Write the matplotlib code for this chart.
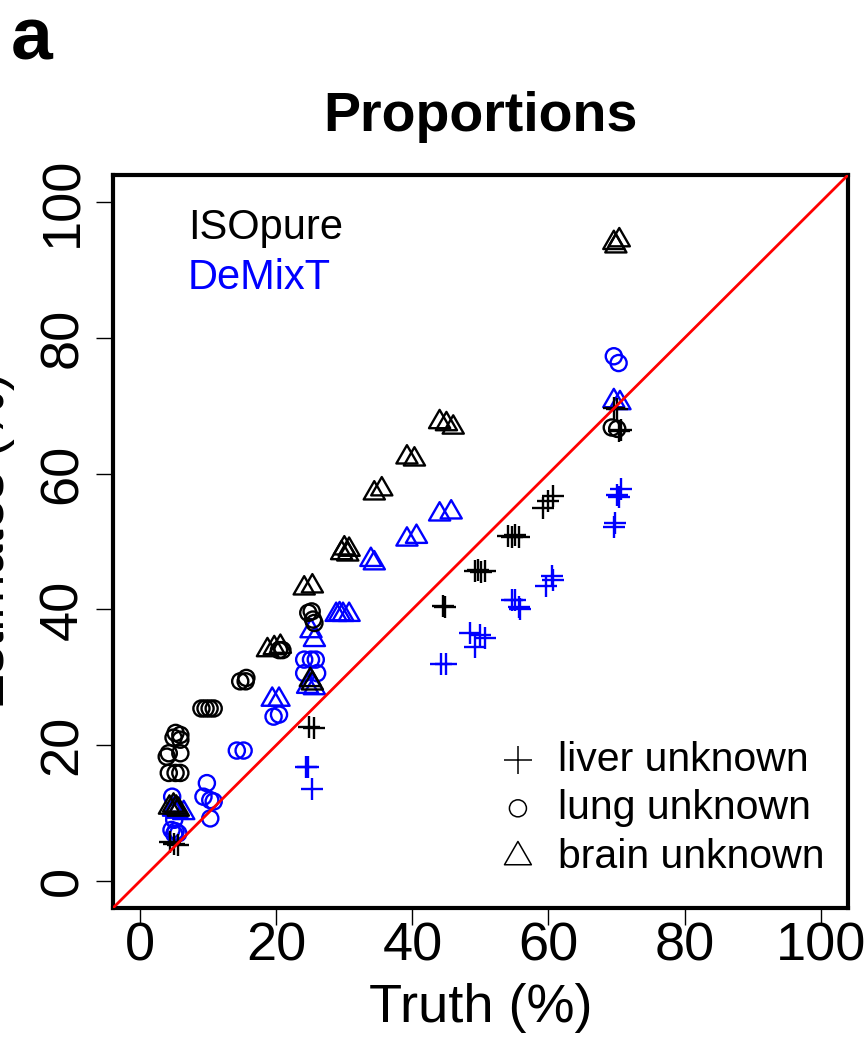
import matplotlib.pyplot as plt
from matplotlib.path import Path
import numpy as np

plt.rcParams['font.family'] = ['Liberation Sans', 'DejaVu Sans']

# ISOpure (black)
iso_liver_truth = [4.4, 5.0, 5.6, 24.8, 25.5, 44.5, 44.8, 49.2, 49.6, 50.1, 50.6, 54.1, 54.6, 55.1, 55.6,
                   59.2, 60.0, 60.7, 69.6, 70.1, 70.3, 70.6]
iso_liver_est = [5.7, 5.5, 5.3, 22.7, 22.5, 40.5, 40.3, 45.6, 45.8, 45.5, 45.7, 50.8, 50.6, 50.9, 50.7,
                 55.0, 56.0, 56.7, 69.7, 69.5, 66.3, 66.5]
iso_lung_truth = [5.2, 5.9, 4.9, 5.9, 4.2, 5.9, 3.9, 4.2, 5.2, 5.9, 9.0, 9.6, 10.2, 10.8, 14.7, 15.6, 15.5,
                  20.4, 20.9, 24.7, 25.2, 25.4, 25.6, 69.3, 70.1]
iso_lung_est = [21.8, 21.5, 21.1, 20.8, 18.8, 18.8, 18.3, 15.9, 15.9, 15.9, 25.4, 25.4, 25.4, 25.4, 29.4, 29.9, 29.4,
                34.0, 34.0, 39.5, 39.7, 38.5, 38.0, 66.8, 66.6]
iso_brain_truth = [4.3, 4.9, 5.3, 5.6, 18.7, 19.7, 20.6, 24.1, 25.3, 25.0, 25.3, 29.6, 30.0, 30.5, 30.7,
                   34.4, 35.5, 39.2, 40.3, 44.0, 45.0, 46.0, 69.6, 70.4, 69.9]
iso_brain_est = [10.8, 11.1, 10.8, 10.5, 34.0, 34.3, 34.5, 43.1, 43.4, 29.6, 29.1, 48.3, 49.0, 48.1, 48.8,
                 57.1, 57.7, 62.4, 62.1, 67.6, 67.3, 66.8, 94.0, 94.4, 93.5]

# DeMixT (blue)
dmx_liver_truth = [24.3, 24.6, 25.3, 44.2, 45.0, 48.4, 49.2, 49.9, 50.6, 54.6, 55.1, 55.6, 55.8,
                   59.7, 60.5, 60.7, 69.6, 69.8, 70.1, 70.6, 70.3]
dmx_liver_est = [16.8, 16.8, 13.6, 31.9, 31.9, 36.5, 34.5, 36.3, 35.8, 41.4, 41.4, 40.4, 40.0,
                 43.4, 44.9, 44.4, 52.2, 52.8, 56.9, 57.7, 56.5]
dmx_lung_truth = [4.7, 5.0, 4.6, 5.2, 5.6, 5.0, 9.8, 9.3, 10.3, 10.8, 10.3, 14.2, 15.2, 19.6, 20.4,
                  24.1, 25.1, 25.8, 24.1, 26.0, 69.6, 70.3]
dmx_lung_est = [12.4, 9.0, 7.5, 7.3, 7.0, 6.9, 14.4, 12.4, 11.9, 11.7, 9.2, 19.2, 19.2, 24.2, 24.5,
                32.6, 32.6, 32.6, 30.6, 30.6, 77.3, 76.3]
dmx_brain_truth = [4.9, 5.4, 6.4, 19.4, 20.4, 24.6, 25.6, 25.1, 25.6, 28.8, 29.3, 29.8, 30.7, 33.9, 34.4,
                   39.2, 40.6, 44.0, 45.7, 69.6, 70.5]
dmx_brain_est = [10.5, 10.2, 10.0, 26.7, 26.7, 28.6, 28.4, 36.8, 35.5, 39.2, 39.3, 39.2, 39.2, 47.3, 46.8,
                 50.3, 50.7, 54.0, 54.3, 70.7, 70.4]

ticks = [0, 20, 40, 60, 80, 100]
legend_labels = ['liver unknown', 'lung unknown', 'brain unknown']

# equilateral triangle like R pch=2
tri = Path([(-1, -0.5774), (1, -0.5774), (0, 1.1547), (-1, -0.5774)],
           [Path.MOVETO, Path.LINETO, Path.LINETO, Path.CLOSEPOLY])

fig = plt.figure(figsize=(8.67, 10.42), dpi=100)
ax = fig.add_axes([0.1303, 0.1286, 0.8477, 0.7034])

lw = 1.7
for col, liv, lun, bra in [
    ('blue', (dmx_liver_truth, dmx_liver_est), (dmx_lung_truth, dmx_lung_est), (dmx_brain_truth, dmx_brain_est)),
    ('black', (iso_liver_truth, iso_liver_est), (iso_lung_truth, iso_lung_est), (iso_brain_truth, iso_brain_est)),
]:
    ax.scatter(liv[0], liv[1], marker='+', s=250, color=col, linewidths=lw, zorder=3)
    ax.scatter(lun[0], lun[1], marker='o', s=135, facecolors='none', edgecolors=col, linewidths=lw, zorder=3)
    ax.scatter(bra[0], bra[1], marker=tri, s=310, facecolors='none', edgecolors=col, linewidths=lw, zorder=3)

# identity line
ax.axline((0, 0), slope=1, color='red', lw=2.0, zorder=4)

ax.set_xlim(-4, 104)
ax.set_ylim(-4, 104)
ax.set_xticks(ticks)
ax.set_yticks(ticks)
ax.tick_params(axis='both', length=12, width=1, labelsize=39, direction='out')
ax.tick_params(axis='x', pad=-2)
ax.tick_params(axis='y', pad=6)
for lab in ax.get_yticklabels():
    lab.set_rotation(90)
    lab.set_va('center')
for sp in ax.spines.values():
    sp.set_linewidth(3)

ax.set_xlabel('Truth (%)', fontsize=39, labelpad=8)
fig.text(-0.012, 0.481, 'Estimates (%)', rotation=90, fontsize=39, ha='center', va='center')
ax.set_title('Proportions', fontsize=40, fontweight='bold', pad=32)
fig.text(0.012, 0.962, 'a', fontsize=54, fontweight='bold', ha='left', va='center')

# method labels
ax.text(0.102, 0.928, 'ISOpure', transform=ax.transAxes, fontsize=30, color='black', va='center')
ax.text(0.102, 0.859, 'DeMixT', transform=ax.transAxes, fontsize=30, color='blue', va='center')

# marker legend
leg_y = [0.202, 0.136, 0.0696]
ax.scatter([0.551], [leg_y[0]], marker='+', s=400, color='black', linewidths=1.1, transform=ax.transAxes)
ax.scatter([0.551], [leg_y[1]], marker='o', s=150, facecolors='none', edgecolors='black', linewidths=1.1,
           transform=ax.transAxes)
ax.scatter([0.551], [leg_y[2]], marker=tri, s=500, facecolors='none', edgecolors='black', linewidths=1.1,
           transform=ax.transAxes)
for y, t in zip(leg_y, legend_labels):
    ax.text(0.605, y, t, transform=ax.transAxes, fontsize=29.5, va='center')

plt.savefig('out.png', dpi=100)
plt.close()
